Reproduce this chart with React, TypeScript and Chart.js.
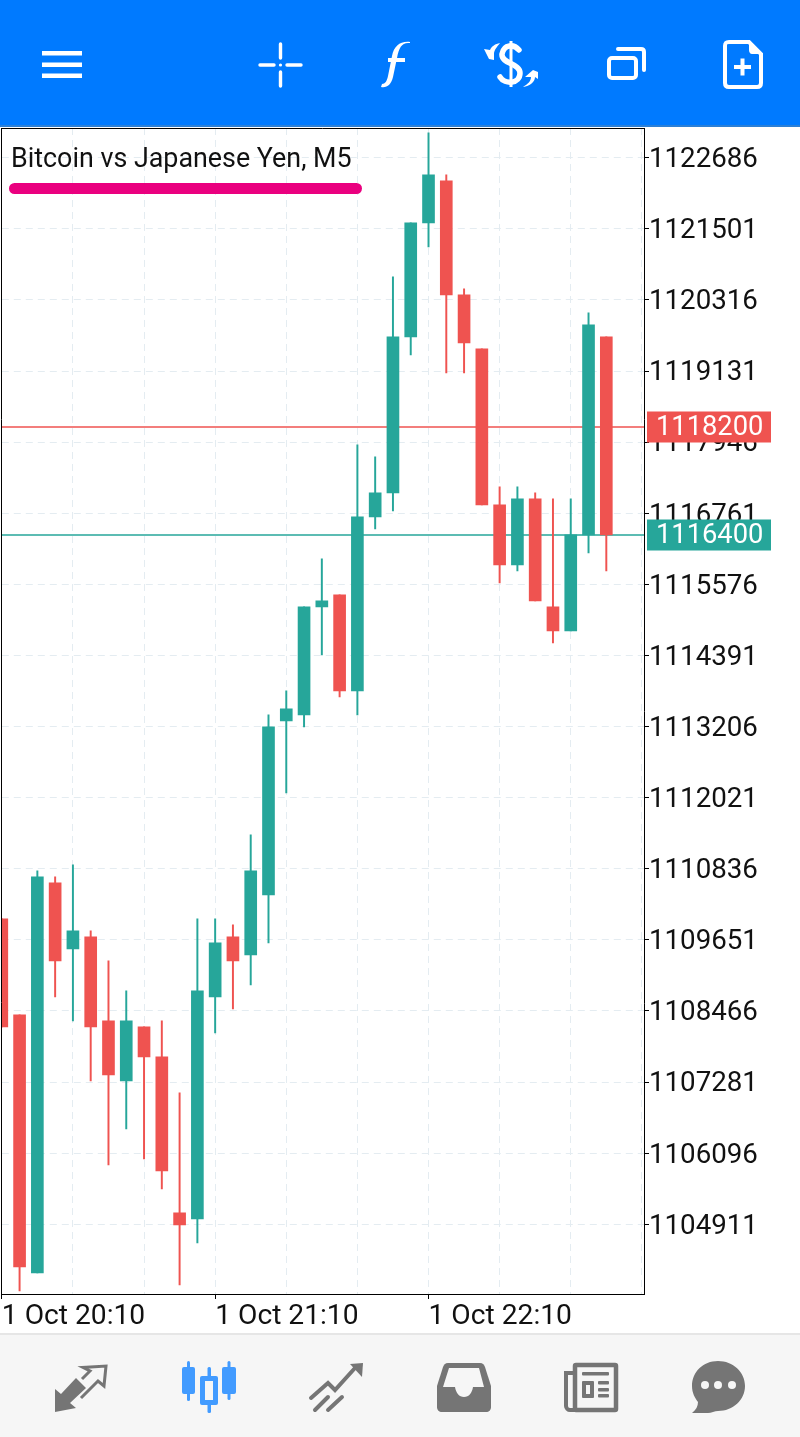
import { useEffect, useRef } from "react";
import { Chart, registerables, type ChartOptions, type Plugin } from "chart.js";

Chart.register(...registerables);

const GREEN = "#26a69a";
const RED = "#ef5350";
const FONT = "Roboto, sans-serif";

const opens = [
  1110000, 1108400, 1104100, 1110600, 1109500, 1109700, 1108300, 1107300, 1108200, 1107700, 1105100, 1105000,
  1108700, 1109700, 1109400, 1110400, 1113300, 1113400, 1115200, 1115400, 1113800, 1116700, 1117100, 1119700,
  1121600, 1122300, 1120400, 1119500, 1116900, 1115900, 1117000, 1115200, 1114800, 1116400, 1119700
];
const closes = [
  1108200, 1104200, 1110700, 1109300, 1109800, 1108200, 1107400, 1108300, 1107700, 1105800, 1104900, 1108800,
  1109600, 1109300, 1110800, 1113200, 1113500, 1115200, 1115300, 1113800, 1116700, 1117100, 1119700, 1121600,
  1122400, 1120400, 1119600, 1116900, 1115900, 1117000, 1115300, 1114800, 1116400, 1119900, 1116400
];
const highs = [
  1110000, 1108400, 1110800, 1110700, 1110900, 1109800, 1109300, 1108800, 1108200, 1108300, 1107100, 1110000,
  1110000, 1109900, 1111400, 1113400, 1113800, 1115200, 1116000, 1115400, 1117900, 1117700, 1120700, 1121600,
  1123100, 1122400, 1120500, 1119500, 1117200, 1117200, 1117100, 1117000, 1117000, 1120100, 1119700
];
const lows = [
  1108200, 1103800, 1104100, 1108700, 1108300, 1107300, 1105900, 1106500, 1106000, 1105500, 1103900, 1104600,
  1108100, 1108500, 1108900, 1109600, 1112100, 1113200, 1114400, 1113700, 1113400, 1116500, 1116800, 1119400,
  1121200, 1119100, 1119100, 1116900, 1115600, 1115800, 1115300, 1114600, 1114800, 1116100, 1115800
];

const priceTicks = [
  1122686, 1121501, 1120316, 1119131, 1117946, 1116761, 1115576, 1114391, 1113206, 1112021, 1110836, 1109651,
  1108466, 1107281, 1106096, 1104911
];
const gridSlots = [0, 4, 8, 12, 16, 20, 24, 28, 32, 36];
const timeLabels: Record<number, string> = { 0: "1 Oct 20:10", 12: "1 Oct 21:10", 24: "1 Oct 22:10" };
const priceLines = [
  { value: 1118200, color: RED },
  { value: 1116400, color: GREEN }
];

const isUp = (i: number) => closes[i] >= opens[i];
const candleColors = opens.map((_, i) => (isUp(i) ? GREEN : RED));

// frame round the plot and the price tags that sit on top of the axis labels
const overlayPlugin: Plugin<"bar"> = {
  id: "overlay",
  afterDraw(chart) {
    const { ctx, chartArea, scales } = chart;
    ctx.save();
    ctx.strokeStyle = "#000";
    ctx.lineWidth = 1;
    ctx.beginPath();
    ctx.moveTo(1.5, 2.5);
    ctx.lineTo(chartArea.right, 2.5);
    ctx.moveTo(1.5, 2);
    ctx.lineTo(1.5, chartArea.bottom);
    ctx.stroke();
    ctx.font = `27.3px ${FONT}`;
    ctx.textAlign = "left";
    ctx.textBaseline = "middle";
    priceLines.forEach((line) => {
      const y = scales.y.getPixelForValue(line.value);
      ctx.fillStyle = line.color;
      ctx.fillRect(647, Math.round(y) - 15.5, 124, 31);
      ctx.fillStyle = "#fff";
      ctx.fillText(String(line.value), 656, y + 1);
    });
    ctx.restore();
  }
};

function CandleChart() {
  const canvasRef = useRef<HTMLCanvasElement | null>(null);

  useEffect(() => {
    if (!canvasRef.current) return;

    const options: ChartOptions<"bar"> = {
      responsive: false,
      animation: false,
      devicePixelRatio: 1,
      layout: { padding: { left: 1.8, top: 2, right: 0, bottom: 0 } },
      plugins: { legend: { display: false }, tooltip: { enabled: false }, title: { display: false } },
      scales: {
        x: {
          type: "linear",
          min: 0,
          max: 36.12,
          offset: false,
          bounds: "data",
          afterBuildTicks: (scale) => {
            scale.ticks = gridSlots.map((value) => ({ value }));
          },
          afterFit: (scale) => {
            scale.height = 40;
            scale.paddingLeft = 0;
            scale.paddingRight = 0;
          },
          border: { color: "#000", width: 1, dash: [7, 5] },
          grid: {
            offset: false,
            color: "#e4ecf1",
            lineWidth: 1,
            tickLength: 5,
            tickColor: (ctx) => (ctx.tick && timeLabels[ctx.tick.value] ? "#000" : "rgba(0,0,0,0)"),
            tickWidth: 1
          },
          ticks: {
            autoSkip: false,
            maxRotation: 0,
            align: "start",
            color: "#111",
            padding: 1,
            font: { family: FONT, size: 28.2 },
            callback: (value) => timeLabels[Number(value)] ?? ""
          }
        },
        y: {
          type: "linear",
          position: "right",
          min: 1103749,
          max: 1123182,
          bounds: "data",
          afterBuildTicks: (scale) => {
            scale.ticks = priceTicks.map((value) => ({ value }));
          },
          afterFit: (scale) => {
            scale.width = 156;
            // the top label must not push the plot down
            scale.paddingTop = 0;
            scale.paddingBottom = 0;
          },
          border: { color: "#000", width: 1, dash: [7, 5] },
          grid: { color: "#e4ecf1", lineWidth: 1, tickLength: 5, tickColor: "#000", tickWidth: 1 },
          ticks: {
            autoSkip: false,
            color: "#111",
            padding: 0,
            labelOffset: 2.4,
            font: { family: FONT, size: 27.7 },
            callback: (value) => String(value)
          }
        }
      }
    };

    const lineSets = priceLines.map((line) => ({
      type: "line" as const,
      data: [
        { x: 0, y: line.value },
        { x: 36.12, y: line.value }
      ],
      borderColor: line.color,
      borderWidth: 1.4,
      pointRadius: 0,
      order: 3
    }));

    const chart = new Chart(canvasRef.current, {
      type: "bar",
      data: {
        datasets: [
          ...lineSets,
          {
            data: lows.map((low, i) => ({ x: i, y: [low, highs[i]] })),
            backgroundColor: candleColors,
            barThickness: 1.3,
            grouped: false,
            order: 2
          },
          {
            data: opens.map((open, i) => ({ x: i, y: [open, closes[i]] })),
            backgroundColor: candleColors,
            barThickness: 12,
            grouped: false,
            order: 1
          }
        ] as never
      },
      options,
      plugins: [overlayPlugin]
    });

    return () => chart.destroy();
  }, []);

  return <canvas ref={canvasRef} width={800} height={1208} style={{ position: "absolute", left: 0, top: 126 }} />;
}

function HeaderIcons() {
  return (
    <svg width={800} height={125} style={{ position: "absolute", left: 0, top: 0 }} fill="#fff">
      <rect x={42} y={51} width={40} height={4.5} />
      <rect x={42} y={62.5} width={40} height={4.5} />
      <rect x={42} y={73.5} width={40} height={4.5} />

      <g stroke="#fff" strokeWidth={3.4} strokeLinecap="round">
        <line x1={260} y1={65} x2={274} y2={65} />
        <line x1={287} y1={65} x2={301} y2={65} />
        <line x1={280.5} y1={44} x2={280.5} y2={58} />
        <line x1={280.5} y1={72} x2={280.5} y2={86} />
      </g>
      <circle cx={280.5} cy={65} r={1.6} />

      <path d="M410 43 C402 42 399 47 397 58 L393 77 C391 85 387 88 381 87 L382 84 C385 84 387 81 388 76 L392 56 C394 46 400 41 410 42 Z" />
      <rect x={388} y={58} width={17} height={4} />

      <path
        d="M519 50 C514 44 504 44 502 54 C501 64 520 63 520 73 C520 84 505 85 500 77"
        fill="none"
        stroke="#fff"
        strokeWidth={5.5}
        strokeLinecap="round"
      />
      <rect x={509.5} y={41} width={3} height={46} />
      <path d="M500 43 C495 44 492 46 490 50 L484 49 L489 59 L494 60 L494 54 C494 50 497 47 500 43 Z" />
      <path d="M523 87 C528 84 531 81 531 77 L525 77 L533 70 L538 72 L538 79 L535 77 C535 82 530 86 523 87 Z" />

      <rect x={609} y={58} width={27} height={20} rx={3} fill="none" stroke="#fff" strokeWidth={4} />
      <path d="M618 49 H641 C643 49 644 50 644 52 V70" fill="none" stroke="#fff" strokeWidth={4} strokeLinecap="round" />

      <path
        d="M729 42 H749 L761 54 V83 C761 85 760 87 757 87 H729 C726 87 725 85 725 83 V46 C725 43 726 42 729 42 Z"
        fill="none"
        stroke="#fff"
        strokeWidth={4}
      />
      <path d="M749 41 L762 54 H752 C750 54 749 52 749 50 Z" />
      <rect x={734} y={65} width={17} height={4} />
      <rect x={740.5} y={58.5} width={4} height={17} />
    </svg>
  );
}

function FooterIcons() {
  return (
    <svg width={800} height={102} viewBox="0 1335 800 102" style={{ position: "absolute", left: 0, top: 1335 }}>
      <path d="M55 1412 L55 1389 L61 1394 L76 1378 L86 1388 L70 1403 L76 1408 Z" fill="#757575" />
      <path
        d="M82 1379 L90 1371 L83 1367.5 L106 1366 L104 1386 L98 1381 L81 1398"
        fill="none"
        stroke="#757575"
        strokeWidth={3}
      />

      <g fill="#429bff">
        <rect x={182} y={1367} width={13} height={27} rx={2} />
        <rect x={187} y={1361} width={3} height={40} rx={1.5} />
        <rect x={222} y={1367} width={14} height={27} rx={2} />
        <rect x={227.5} y={1361} width={3} height={39} rx={1.5} />
        <rect x={207.5} y={1367} width={3.5} height={46} rx={1.5} />
        <rect x={200} y={1376} width={18} height={29} rx={2} />
        <rect x={205} y={1381} width={8} height={19} fill="#f6f6f6" />
      </g>

      <g fill="none" stroke="#757575" strokeWidth={4} strokeLinecap="round">
        <path d="M311 1398 L328 1383 L335 1390 L355 1368" />
        <path d="M315 1410 L328 1397 M328 1410 L342 1397" />
      </g>
      <path d="M350 1364 L363 1363 L362 1377 Z" fill="#757575" />

      <path
        d="M448 1363 H480 C483 1363 484 1365 485 1367 L491 1386 V1407 C491 1410 489 1412 486 1412 H442 C439 1412 437 1410 437 1407 V1386 L443 1367 C444 1365 445 1363 448 1363 Z"
        fill="#757575"
      />
      <path
        d="M449 1368 H479 L484 1387 H473 C472 1393 469 1397 464 1397 C459 1397 456 1393 455 1387 H443 Z"
        fill="#f6f6f6"
      />

      <rect x={575} y={1365} width={41} height={45} rx={1} fill="none" stroke="#757575" strokeWidth={4.5} />
      <path d="M573 1373 H566 V1406 C566 1408 568 1410 570 1410 H576" fill="none" stroke="#757575" strokeWidth={4} />
      <g fill="#757575">
        <rect x={582} y={1372} width={27} height={3.5} rx={1} />
        <rect x={582} y={1381} width={12} height={17} rx={1} />
        <rect x={598} y={1381} width={11} height={3.5} rx={1} />
        <rect x={598} y={1388} width={11} height={3.5} rx={1} />
        <rect x={598} y={1394} width={11} height={3.5} rx={1} />
      </g>
      <rect x={586} y={1385} width={4} height={9} fill="#f6f6f6" />

      <path
        d="M718 1361 C733 1361 745 1372 745 1386 C745 1400 733 1411 718 1411 C715 1411 711 1413 708 1413 L692 1413 C696 1410 698 1406 698 1402 C695 1398 692 1393 692 1386 C692 1372 703 1361 718 1361 Z"
        fill="#757575"
      />
      <circle cx={705} cy={1385} r={4} fill="#f6f6f6" />
      <circle cx={718} cy={1385} r={4} fill="#f6f6f6" />
      <circle cx={732} cy={1385} r={4} fill="#f6f6f6" />
    </svg>
  );
}

export default function App() {
  return (
    <div style={{ position: "absolute", left: 0, top: 0, width: 800, height: 1437, background: "#fff", overflow: "hidden" }}>
      <div style={{ position: "absolute", left: 0, top: 0, width: 800, height: 125, background: "#007aff", borderBottom: "2px solid #2b7fd6" }} />
      <HeaderIcons />
      <CandleChart />
      <div
        style={{
          position: "absolute",
          left: 11,
          top: 143,
          fontFamily: FONT,
          fontSize: 26.85,
          lineHeight: "30px",
          color: "#111",
          whiteSpace: "nowrap"
        }}
      >
        Bitcoin vs Japanese Yen, M5
      </div>
      <div style={{ position: "absolute", left: 9, top: 183, width: 353, height: 11, borderRadius: 6, background: "#ea007f" }} />
      <div style={{ position: "absolute", left: 0, top: 1333, width: 800, height: 102, background: "#f6f6f6", borderTop: "2px solid #e6e6e6" }} />
      <FooterIcons />
    </div>
  );
}
